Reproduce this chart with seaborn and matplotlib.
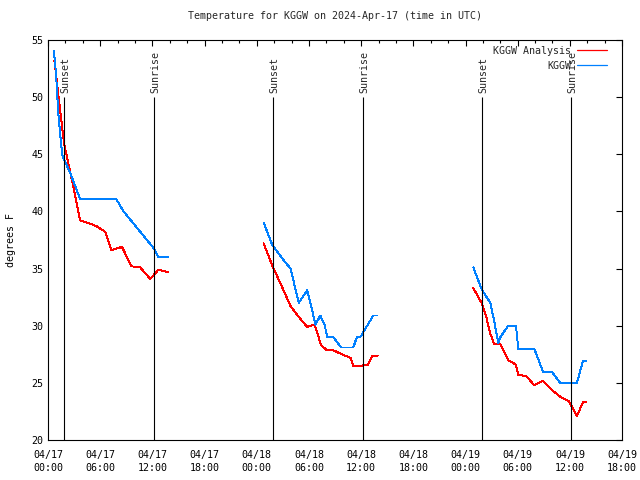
import pandas as pd
import seaborn as sns
import matplotlib.pyplot as plt
import matplotlib.dates as mdates
from matplotlib.lines import Line2D

# KGGW observations, three nights (UTC)
obs_day1_time = ["04-17 00:41", "04-17 00:55", "04-17 01:11", "04-17 01:28", "04-17 01:35", "04-17 01:41",
                 "04-17 02:32", "04-17 03:41", "04-17 07:50", "04-17 08:41", "04-17 12:08", "04-17 12:42",
                 "04-17 13:48"]
obs_day1_temp = [54.0, 52.1, 48.6, 46.2, 45.4, 44.8, 43.4, 41.1, 41.1, 40.0, 36.8, 36.0, 36.0]

obs_day2_time = ["04-18 00:48", "04-18 01:46", "04-18 02:55", "04-18 03:53", "04-18 04:50", "04-18 05:48",
                 "04-18 06:46", "04-18 07:18", "04-18 07:48", "04-18 08:06", "04-18 08:48", "04-18 09:42",
                 "04-18 11:06", "04-18 11:30", "04-18 11:54", "04-18 13:24", "04-18 13:52"]
obs_day2_temp = [39.0, 37.1, 35.9, 35.0, 32.0, 33.1, 30.1, 30.9, 30.1, 29.0, 29.0, 28.1,
                 28.1, 29.0, 29.0, 30.9, 30.9]

obs_day3_time = ["04-19 00:54", "04-19 01:51", "04-19 02:51", "04-19 03:18", "04-19 03:46", "04-19 04:00",
                 "04-19 04:54", "04-19 05:48", "04-19 06:04", "04-19 07:54", "04-19 08:54", "04-19 09:54",
                 "04-19 10:54", "04-19 12:48", "04-19 13:30", "04-19 13:54"]
obs_day3_temp = [35.1, 33.2, 32.0, 30.4, 28.5, 29.0, 30.0, 30.0, 28.0, 28.0, 26.0, 26.0,
                 25.0, 25.0, 26.9, 26.9]

# KGGW analysis
ana_day1_time = ["04-17 00:44", "04-17 01:50", "04-17 02:54", "04-17 03:42", "04-17 04:36", "04-17 05:36",
                 "04-17 06:36", "04-17 07:18", "04-17 08:30", "04-17 09:36", "04-17 10:36", "04-17 11:45",
                 "04-17 12:42", "04-17 13:48"]
ana_day1_temp = [53.2, 46.0, 42.2, 39.2, 39.0, 38.7, 38.2, 36.6, 36.9, 35.2, 35.1, 34.1, 34.9, 34.7]

ana_day2_time = ["04-18 00:48", "04-18 01:46", "04-18 02:54", "04-18 03:54", "04-18 04:48", "04-18 05:48",
                 "04-18 06:39", "04-18 07:24", "04-18 08:00", "04-18 08:42", "04-18 09:48", "04-18 10:48",
                 "04-18 11:06", "04-18 11:54", "04-18 12:48", "04-18 13:18", "04-18 13:54"]
ana_day2_temp = [37.2, 35.3, 33.4, 31.7, 30.8, 29.9, 30.1, 28.3, 27.9, 27.9, 27.5, 27.2,
                 26.5, 26.5, 26.6, 27.4, 27.4]

ana_day3_time = ["04-19 00:54", "04-19 01:51", "04-19 02:21", "04-19 02:51", "04-19 03:18", "04-19 04:00",
                 "04-19 04:54", "04-19 05:48", "04-19 06:04", "04-19 07:00", "04-19 07:54", "04-19 08:54",
                 "04-19 09:54", "04-19 10:54", "04-19 11:54", "04-19 12:48", "04-19 13:30", "04-19 13:54"]
ana_day3_temp = [33.3, 32.0, 30.9, 29.3, 28.4, 28.4, 27.0, 26.6, 25.7, 25.6, 24.8, 25.2,
                 24.4, 23.8, 23.4, 22.1, 23.3, 23.3]

sunset_times = ["04-17 01:48", "04-18 01:50", "04-19 01:52"]
sunrise_times = ["04-17 12:12", "04-18 12:12", "04-19 12:09"]

series = [
    ("KGGW Analysis", 1, ana_day1_time, ana_day1_temp),
    ("KGGW Analysis", 2, ana_day2_time, ana_day2_temp),
    ("KGGW Analysis", 3, ana_day3_time, ana_day3_temp),
    ("KGGW", 1, obs_day1_time, obs_day1_temp),
    ("KGGW", 2, obs_day2_time, obs_day2_temp),
    ("KGGW", 3, obs_day3_time, obs_day3_temp),
]
frames = []
for src, seg, t, v in series:
    frames.append(pd.DataFrame({"time": pd.to_datetime(["2024-" + s for s in t]),
                                "temp": v, "source": src, "seg": seg}))
df = pd.concat(frames, ignore_index=True)

def ts(s):
    return pd.Timestamp("2024-" + s)

sns.set_theme(style="white")
plt.rcParams["font.family"] = ["DejaVu Sans Mono"]
plt.rcParams["xtick.direction"] = "in"
plt.rcParams["ytick.direction"] = "in"

fig, ax = plt.subplots(figsize=(6.4, 4.8), dpi=100)
fig.subplots_adjust(left=0.075, right=0.972, top=0.917, bottom=0.083)

palette = {"KGGW Analysis": "#ff0000", "KGGW": "#0080ff"}
sns.lineplot(data=df, x="time", y="temp", hue="source", units="seg", estimator=None,
             hue_order=["KGGW Analysis", "KGGW"], palette=palette, linewidth=0.7,
             legend=False, ax=ax, antialiased=False)

fs = 7.2
for s in sunset_times:
    ax.vlines(ts(s), 20, 50, color="black", lw=0.8)
    ax.annotate("Sunset", (ts(s), 50), xytext=(1, 3), textcoords="offset points",
                rotation=90, ha="center", va="bottom", fontsize=fs)
for s in sunrise_times:
    ax.vlines(ts(s), 20, 50, color="black", lw=0.8)
    ax.annotate("Sunrise", (ts(s), 50), xytext=(1, 3), textcoords="offset points",
                rotation=90, ha="center", va="bottom", fontsize=fs)

ax.set_xlim(pd.Timestamp("2024-04-17 00:00"), pd.Timestamp("2024-04-19 18:00"))
ax.set_ylim(20, 55)
ax.xaxis.set_major_locator(mdates.HourLocator(byhour=[0, 6, 12, 18]))
ax.xaxis.set_minor_locator(mdates.HourLocator(byhour=range(0, 24, 2)))
ax.xaxis.set_major_formatter(mdates.DateFormatter("%m/%d\n%H:%M"))
ax.set_yticks(range(20, 56, 5))
ax.tick_params(which="both", top=True, right=True, labelsize=fs, colors="black")
ax.tick_params(which="major", length=4.5, width=0.8)
ax.tick_params(which="minor", length=2.5, width=0.8)
ax.tick_params(axis="x", pad=7)
for lab in ax.get_xticklabels():
    lab.set_linespacing(1.45)
for sp in ax.spines.values():
    sp.set_color("black")
    sp.set_linewidth(0.8)

ax.set_xlabel("")
ax.set_ylabel("degrees F", fontsize=fs, labelpad=11, color="black")
ax.set_title("Temperature for KGGW on 2024-Apr-17 (time in UTC)", fontsize=fs, pad=15)

handles = [Line2D([], [], color=palette[k], lw=0.9) for k in ["KGGW Analysis", "KGGW"]]
ax.legend(handles, ["KGGW Analysis", "KGGW"], loc="upper right", bbox_to_anchor=(0.985, 1.0),
          markerfirst=False, frameon=False, fontsize=fs, handlelength=3.0,
          handletextpad=0.6, labelspacing=0.5, borderaxespad=0.2)

fig.savefig("out.png", dpi=100)
